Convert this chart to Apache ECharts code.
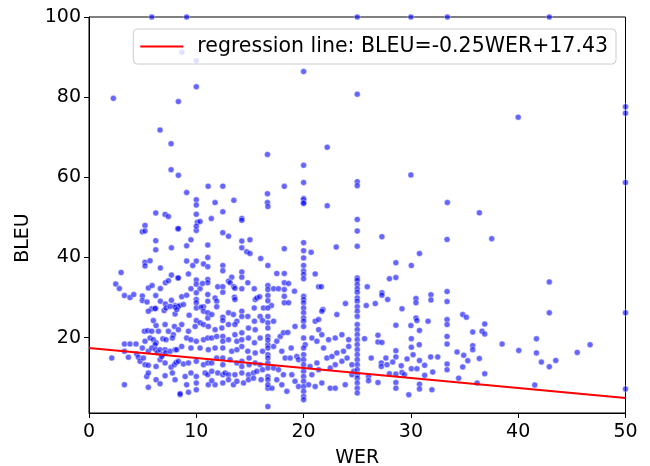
<!DOCTYPE html>
<html>
<head>
<meta charset="utf-8">
<script src="https://cdn.jsdelivr.net/npm/echarts@6/dist/echarts.min.js"></script>
<style>html,body{margin:0;padding:0;background:#fff}#c{width:650px;height:466px}</style>
</head>
<body>
<div id="c"></div>
<script>
// WER / BLEU sample pairs
const werBleu = [
[5.85,100],[9.1,100],[25,100],[30,100],[33.4,100],[42.9,100],
[8.65,91.2],[10,89.1],[20,86.4],[2.27,79.7],[8.33,78.9],[10,82.6],[25,80.75],
[6.62,71.8],[7.65,68.4],[16.63,65.7],[22.2,67.5],[7.65,61.9],[8.33,60.5],[20,63],[20,58.7],[16.63,55.9],[18.2,57.75],[25,58.9],[25,57.9],[9.1,56.2],[11.1,57.75],[12.47,57.8],[10,54.4],[11.75,53.7],[13.5,54.25],[16.63,53.7],[20,54.7],[20,54.4],[20,53.7],
[40,75],[50,77.6],[50,76],[50,58.7],[30,60.6],[33.4,53.7],
[6.22,51.1],[7.09,50.75],[7.4,50.2],[5.22,48],[4.97,46.4],[5.22,46.6],[8.27,47.2],[6.22,44.2],[6.22,41.9],[7.68,42.4],[5.22,38.8],[5.69,39.2],[5.22,37.9],[6.65,37.4],[2.99,36.25],[7.68,35.6],[8.27,34.9],[2.49,33.4],[2.83,32.25],[7.12,33.7],[7.4,34.2],[5.53,32.4],[5.88,33],[6.65,32.25],[3.3,30.5],[3.82,30],[4.17,30.75],[4.97,30.4],[6.22,30.5],[4.97,29.25],[5.41,28.9],[6.65,29.1],[7.68,29.3],[7.12,28.4],[8.02,28],[6.22,27.3],[5.85,27.2],[8.43,28],
[10,53.1],[16.67,52.7],[10,50.8],[12.47,51.4],[10.1,48.8],[10.35,49],[11.4,49.7],[14.24,49.75],[14.24,49.3],[10,46.75],[10,47.8],[8.33,47.2],[12.47,46.2],[13,45.3],[9.5,44.4],[9.1,42.9],[11.07,43.1],[14.24,44.1],[14.24,42.4],[15,44.4],[14.7,41.4],[15,41],[11.07,40],[16,39.75],[9.1,39.1],[10,39.1],[10.67,38.4],[11.07,37.7],[9.67,38],[12.47,38],[12.47,36.7],[16.67,38],[8.33,34.9],[9.27,35.9],[14.24,36.4],[14.24,35.1],[13.3,35.1],[10,34.4],[10,33.3],[11.07,34.5],[11.07,33.7],[13,34.1],[13.15,33.7],[13.5,32.7],[13.6,32.3],[14.8,33.7],[15.4,32.2],[16.67,33],[16.67,32],[9.5,32.2],[10.35,32.2],[10.57,33.5],[12,32.7],[12.47,32.7],[12.47,31.3],[14.24,32.2],[8.64,30.2],[9.1,30.6],[10,31.2],[10,29.5],[11.07,30.75],[11.07,29.1],[11.75,29.9],[11.9,29.1],[13.55,30.1],[13.6,29.5],[15.5,29.5],[15.65,29.9],[15.9,30.2],[16.67,30.5],[16.67,29.2],[8.33,27.8],[8.8,28.25],[10,28.7],[10.67,27.7],[11.9,27.7],[15.4,27.4],[16.26,27.4],
[20,53.5],[22.2,52.9],[25,49.5],[25,46.6],[25,42.8],[18.2,42.2],[20,43.7],[20,41.7],[20,39.9],[20.7,41.3],[23.04,42.6],[17.5,36],[18.2,36],[20,38],[20,36.6],[20,35.75],[20,34.7],[21.08,35.9],[25,34.9],[25,34.3],[25,33.25],[17.2,32.2],[17.66,32.2],[18.2,32],[18.2,33.7],[18.6,33.5],[19.15,31.6],[21.4,32.7],[21.65,32.7],[25,32.2],[25,31.3],[17,28],[18.2,30.3],[18.2,28.7],[18.6,28.7],[20,30.3],[20,29.5],[20,28.7],[20,27.4],[23.9,28.5],[25,29.9],[25,29.1],[25,27.7],[21.8,27],
[27.3,45.2],[33.37,44.5],[30.8,41],[28.6,38.7],[30.04,38],[28,34.7],[28.6,35],[25.93,32.7],[27.3,31.2],[27.3,30.6],[27.83,29.5],[30.47,29.75],[30.47,28.7],[31.87,30.7],[31.87,29.4],[33.37,31.5],[33.37,29],[25.84,28],[26.68,28.5],[29.17,27.2],
[36.38,51.15],[37.53,44.7],[42.9,33.9],
[5.53,26.6],[6.16,27.25],[7,26.75],[7.18,27.4],[8.02,27.6],[8.02,25.9],[7.56,27.8],[6,24.25],[6.25,23],[7.09,23.25],[7.96,22.8],[5.16,21.6],[5.47,21.75],[5.85,21.6],[6.47,21.6],[7.4,21.6],[7.86,20.75],[5.69,19.9],[6,19.5],[5.22,19.1],[6.25,18.7],[6.16,18.25],[6.88,19.7],[7.18,19.5],[7.77,19.9],[3.3,18.4],[3.82,18.4],[4.38,18.4],[4.97,17.4],[5.53,16.6],[5.85,17.4],[6.22,17],[6.4,16.3],[6.62,17],[7.09,17],[6.84,15.75],[7.15,16.2],[7.56,16.6],[8.02,17],[2.12,14.9],[3.3,16.6],[3.67,15.1],[4.45,15.9],[4.6,15.1],[4.76,14.1],[5.22,13.25],[5.07,14.9],[5.53,13.1],[6.25,12.8],[7.09,13.7],[6.62,14.5],[6.78,15.3],[7.65,12.6],[7.96,13.25],[8.12,13.8],[8.18,17],[5.38,10.3],[5.53,11.2],[6.25,9.5],[6.62,8.5],[7.09,10.5],[7.77,11.2],[8.02,9.5],[8.49,5.75],[3.3,8.25],[5.53,7.6],
[9.33,25.6],[10,27.4],[10.45,27.6],[10.67,26.6],[11.07,26.2],[11.07,24.9],[11.44,25.75],[12.47,25.1],[12.47,24.25],[13,26.2],[13.46,25.75],[13.78,24.1],[14.24,26.6],[14.24,25.3],[14.8,25.3],[15.42,24.1],[15.95,25.3],[16.17,24.25],[16.67,27.4],[16.67,25.3],[16.67,23.7],[10,24.25],[10.35,23.7],[10.67,23.25],[11.12,22.8],[9.89,22.8],[8.64,23.25],[8.18,27],
[9.1,19.9],[9.5,19.5],[10,19.1],[10.67,19.5],[11.07,19.9],[11.44,19.9],[11.9,20.3],[12.47,20.3],[12.47,19.1],[13,19.5],[13.6,20.75],[13.78,19.1],[14.24,21.2],[14.24,19.5],[14.24,17.8],[14.86,19.9],[15.42,18.7],[15.95,19.9],[16.67,20.3],[16.67,18.25],[8.64,17.8],[9.5,17.4],[10.35,17.4],[11.12,17],[11.75,17.4],[12.47,17.4],[13.3,16.6],[13.78,17],[14.8,16.6],[15.49,16.2],[16.17,16.6],[8.33,22],[9.27,21.6],[11.75,22],[12.38,22.4],[13,23.25],[13.6,23.25],[14.86,22.4],[15.49,22],
[8.33,14.1],[8.8,13.4],[9.27,13.7],[10,14.1],[10.67,13.25],[11.07,13.7],[11.44,13.7],[11.9,14.9],[12.47,14.9],[12.47,13.25],[13.15,14.5],[13.78,13.7],[14.24,14.1],[14.24,12.8],[14.92,14.9],[14.92,13.25],[15.49,13.7],[15.95,13.25],[16.67,13.7],[16.67,12.4],[8.96,10.3],[9.5,11.2],[10,10.3],[10.82,11.2],[11.07,10.75],[11.44,11.6],[12,11.2],[12.47,10.75],[12.69,11.2],[13,10.75],[13.6,10.75],[14.24,11.2],[14.86,10.75],[15.33,11.2],[15.64,11.6],[16.17,12],[16.67,10.3],[9.1,8.25],[10,8.7],[11.12,8.25],[11.75,8.25],[12.47,8.7],[13,9.5],[13.46,8.25],[13.78,9.1],[14.4,8.7],[14.86,9.5],[15.33,9.9],[16.04,9.5],[8.49,6],[9.27,6.4],[10,7],[11.44,9.25],[16.67,7.4],[16.67,2.8],
[17.2,24.1],[17.82,20.3],[18.12,21.2],[18.53,21.3],[18.84,17.4],[17.5,19.1],[17.2,17.8],[17.97,16.6],[18.28,14.9],[18.75,14.9],[19.37,15.3],[19.53,14.5],[17.2,12.4],[17.66,12],[18.12,10.75],[17.5,9.5],[17.97,8.25],[18.44,6.6],[18.9,10.75],[19.2,9.1],[19.53,7.8],[17.05,7.4],[19.2,22.8],[21.08,24.1],[21.4,24.5],[21.7,26.6],[21.4,22],[21.7,20.75],[20.77,19.9],[20.15,18.25],[21.24,19.1],[21.86,17.4],[22.33,19.5],[22.95,19.9],[23.57,20.75],[24.2,19.5],[23.1,25.75],[22.17,14.9],[22.64,15.3],[23.1,16.2],[23.72,16.6],[24.2,17.8],[23.57,14.1],[22.95,13.25],[22.48,12.4],[21.4,12],[20.77,10.75],[20.46,8.25],[21.08,7.8],[21.7,8.7],[22.48,7.4],[22.95,7.4],[23.88,8.25],[24.5,10.75],[21.24,13.7],[24.05,14.9],[24.67,11.6],[20.6,12.8],[24.5,13.25],
[20,26.2],[20,24.9],[20,24.1],[20,22.8],[20,19.9],[20,17.4],[20,15.75],[20,14.5],[20,13.25],[20,11.6],[20,10.3],[20,9.1],[20,7.8],[20,6.6],[20,5.3],[20,4.5],
[25,26.6],[25,25.3],[25,23.25],[25,22],[25,20.75],[25,19.5],[25,18.25],[25,17],[25,15.75],[25,14.5],[25,13.25],[25,12],[25,10.75],[25,9.9],[25,8.7],[25,7.4],[25,6.2],
[16.67,22.4],[16.67,19.4],[16.67,17.4],[16.67,15.75],[16.67,14.9],[16.67,9.5],[16.67,8.25],
[33.37,24.5],[33.37,23.25],[33.37,20.3],[33.37,18.4],[33.37,13.4],[33.37,12],[30.47,24.9],[30.56,24.25],[31.6,24.1],[28.6,23.1],[30,23],[30.8,21.8],[25.68,19.75],[26.93,20.6],[26.93,18.9],[27.3,18.8],[30.04,19.75],[30.04,17.6],[30.78,18.25],[28.6,16.75],[28.6,15.2],[30.2,15.75],[26.3,14.9],[27.67,14.9],[27.24,13.7],[27.24,12.8],[27.77,13.25],[28.3,13.9],[29.1,13],[29.64,14.7],[30.04,12.25],[30.56,12.25],[30.8,14.3],[31.28,13.1],[31.84,15.2],[32.5,15.2],[32.03,11.4],[28,11],[28.6,10.9],[29.17,11.3],[29.4,10.75],[31.28,10.6],[26.05,10.3],[26.05,9.25],[26.93,8.8],[28.6,8.8],[28.6,7.4],[29.8,5.75],[30.8,8.4],[30.8,7.2],[31.96,7],
[34.83,25.75],[35.17,25.1],[42.9,26.2],[50,26.2],[36.88,23.4],[35.76,21.4],[36.63,21.6],[36.88,20.9],[35.76,18],[35.76,17],[38.5,18.4],[41.7,19.7],[34.3,16.4],[34.92,15.6],[40.05,16.8],[41.7,16.2],[45.5,16.3],[46.7,18.25],[36.38,14.8],[35.3,14.25],[34.83,12.7],[42.16,13.9],[42.9,12.75],[43.5,14.3],[34.45,9.9],[36.17,8.7],[36.88,11],[41.54,8.2],[50,7.2]
];

// regression line end points: BLEU = -0.25 WER + 17.43
const regWer = [0, 50];
const regBleu = [17.43, 4.93];
const regLabel = 'regression line: BLEU=-0.25WER+17.43';

const xTicks = [0, 10, 20, 30, 40, 50];
const yTicks = [20, 40, 60, 80, 100];
const xName = 'WER';
const yName = 'BLEU';

const font = 'DejaVu Sans';
const chart = echarts.init(document.getElementById('c'), null, {renderer: 'canvas'});
chart.setOption({
  animation: false,
  backgroundColor: '#fff',
  grid: {left: 89, right: 24.5, top: 17, bottom: 53, outerBoundsMode: 'none', containLabel: false,
         show: true, borderColor: '#000', borderWidth: 1, backgroundColor: 'transparent'},
  legend: {
    data: [{name: regLabel, icon: 'rect'}],
    right: 34, top: 29,
    itemWidth: 43, itemHeight: 2,
    padding: [7, 8, 7, 7],
    backgroundColor: 'rgba(255,255,255,0.8)',
    borderColor: '#cccccc', borderWidth: 1, borderRadius: 4,
    textStyle: {fontFamily: font, fontSize: 20.5, color: '#000', padding: [0, 0, 0, 9]},
    z: 10
  },
  graphic: [{
    type: 'text', x: 23, y: 238, rotation: Math.PI / 2,
    style: {text: yName, font: '19px "DejaVu Sans"', fill: '#000', align: 'center', verticalAlign: 'middle'}
  }],
  xAxis: {
    type: 'value', min: 0, max: 50, interval: 10,
    name: xName, nameLocation: 'middle', nameGap: 36,
    nameTextStyle: {fontFamily: font, fontSize: 19, color: '#000'},
    axisLine: {show: true, lineStyle: {color: '#000', width: 1}},
    axisTick: {show: true, length: 5, lineStyle: {color: '#000'}, customValues: xTicks},
    axisLabel: {fontFamily: font, fontSize: 19, color: '#000', margin: 10, customValues: xTicks},
    splitLine: {show: false}
  },
  yAxis: {
    type: 'value', min: 1.2, max: 100,
    axisLine: {show: true, lineStyle: {color: '#000', width: 1}},
    axisTick: {show: true, length: 5, lineStyle: {color: '#000'}, customValues: yTicks},
    axisLabel: {fontFamily: font, fontSize: 19, color: '#000', margin: 8, customValues: yTicks},
    splitLine: {show: false}
  },
  series: [
    {
      type: 'scatter', name: 'points',
      data: werBleu,
      symbolSize: 6,
      itemStyle: {color: '#0000ff', opacity: 0.6, borderColor: '#ffffff', borderWidth: 0.7},
      z: 2
    },
    {
      type: 'line', name: regLabel,
      data: regWer.map((w, i) => [w, regBleu[i]]),
      showSymbol: false, symbol: 'none',
      lineStyle: {color: '#ff0000', width: 2},
      itemStyle: {color: '#ff0000'},
      z: 3
    }
  ]
});
</script>
</body>
</html>
